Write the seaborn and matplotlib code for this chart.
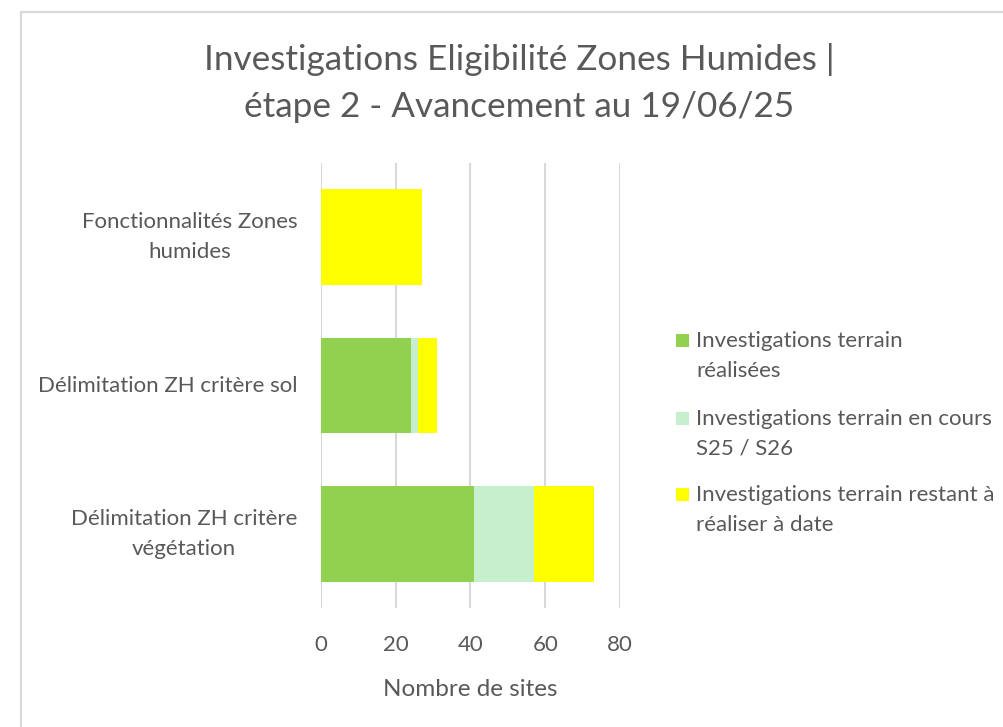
import pandas as pd
import matplotlib.pyplot as plt
import seaborn as sns
from matplotlib.patches import Rectangle

# Données
categories = ["Fonctionnalités Zones\nhumides", "Délimitation ZH critère sol",
              "Délimitation ZH critère\nvégétation"]
realisees = [0, 24, 41]
en_cours = [0, 2, 16]
restant = [27, 5, 16]
series_labels = ["Investigations terrain\nréalisées",
                 "Investigations terrain en cours\nS25 / S26",
                 "Investigations terrain restant à\nréaliser à date"]
colors = ["#92D050", "#C6EFCE", "#FFFF00"]

df = pd.DataFrame({"cat": categories, "r": realisees, "c": en_cours, "t": restant})
df["cum1"] = df["r"]
df["cum2"] = df["r"] + df["c"]
df["cum3"] = df["r"] + df["c"] + df["t"]

sns.set_theme(style="white")
plt.rcParams["font.family"] = ["Lato", "DejaVu Sans"]
grey = "#595959"
W, H = 1004, 727

fig = plt.figure(figsize=(10.04, 7.27), dpi=100)
ax = fig.add_axes([321 / W, 1 - 608 / H, 299 / W, 445 / H])

# Barres empilées : on superpose les cumuls du plus grand au plus petit
for col, c in zip(["cum3", "cum2", "cum1"], colors[::-1]):
    sns.barplot(data=df, x=col, y="cat", color=c, orient="h", width=0.645,
                saturation=1, ax=ax, linewidth=0)

ax.set_xlim(0, 80)
ax.set_ylim(2.5, -0.5)
ax.set_xticks([0, 20, 40, 60, 80])
ax.xaxis.grid(True, color="#D9D9D9", linewidth=1.5)
ax.set_axisbelow(True)
for s in ax.spines.values():
    s.set_visible(False)
ax.tick_params(axis="both", length=0, labelsize=16, labelcolor=grey)
ax.tick_params(axis="x", pad=19.5)
ax.tick_params(axis="y", pad=17)
for lbl in ax.get_yticklabels():
    lbl.set_multialignment("center")
    lbl.set_linespacing(1.6)
    lbl.set_verticalalignment("center")
ax.set_ylabel("")
ax.set_xlabel("Nombre de sites", fontsize=17.5, color=grey, labelpad=17)

fig.text(519 / W, 1 - 83 / H, "Investigations Eligibilité Zones Humides |\nétape 2 - Avancement au 19/06/25",
         ha="center", va="center", fontsize=25.3, color=grey, linespacing=1.6)

# Légende dessinée à la main (carré aligné sur la première ligne)
for lab, c, y0 in zip(series_labels, colors, [340, 418, 494]):
    fig.patches.append(Rectangle((676 / W, 1 - (y0 + 6.5) / H), 13 / W, 13 / H,
                                 transform=fig.transFigure, facecolor=c, edgecolor="none"))
    fig.text(696 / W, 1 - (y0 + 16) / H, lab, ha="left", va="center", fontsize=16,
             color=grey, linespacing=1.6)

# Cadre de la zone graphique
fig.patches.append(Rectangle((21 / W, -0.2), 1.2, 0.2 + 1 - 12 / H, transform=fig.transFigure,
                             fill=False, edgecolor="#D9D9D9", linewidth=1.5))

plt.savefig("out.png", dpi=100)
plt.close()
